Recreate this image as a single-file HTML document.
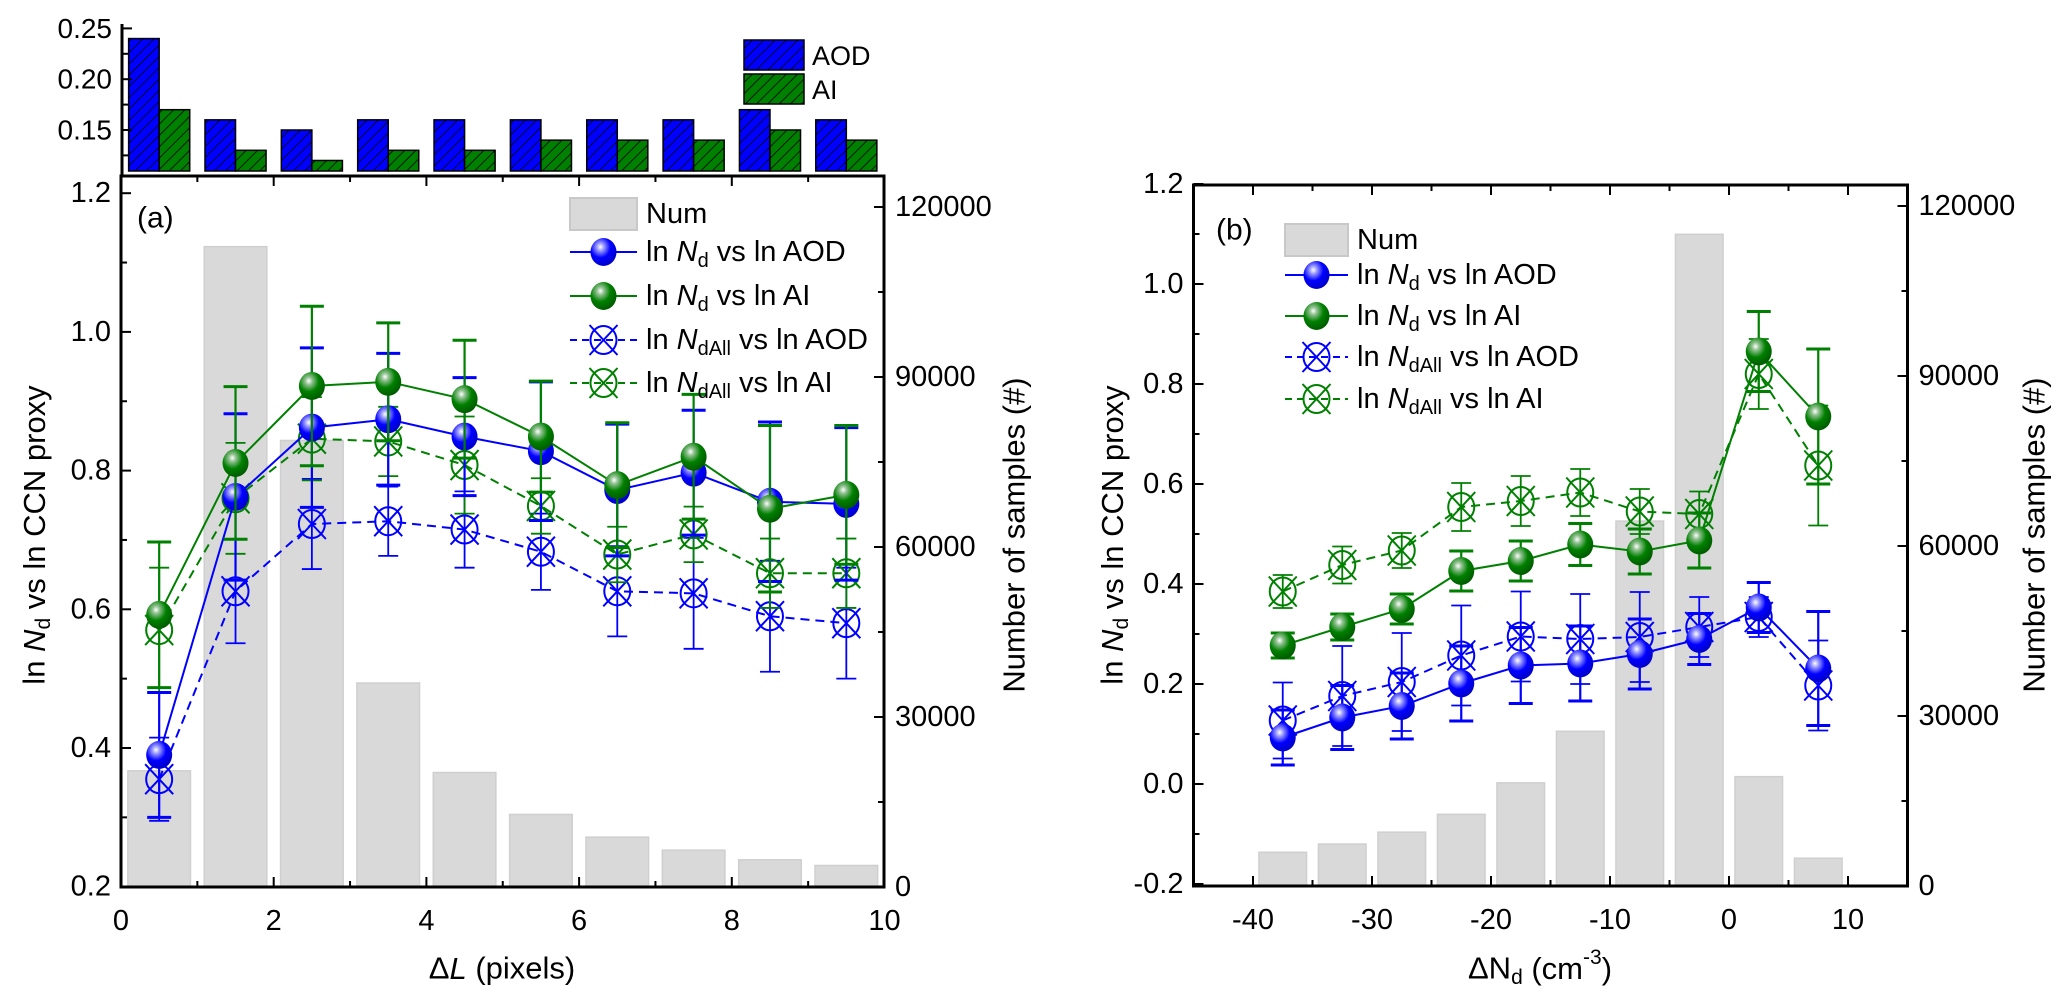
<!DOCTYPE html>
<html><head><meta charset="utf-8"><style>
html,body{margin:0;padding:0;background:#fff}
svg{display:block;font-family:"Liberation Sans",sans-serif}
</style></head><body>
<svg id="fig" width="2067" height="1002" viewBox="0 0 2067 1002" xmlns="http://www.w3.org/2000/svg">
<defs>
<pattern id="hatchB" width="8" height="8" patternUnits="userSpaceOnUse" patternTransform="rotate(45)"><rect width="8" height="8" fill="#0000ff"/><line x1="0" y1="0" x2="0" y2="8" stroke="#000" stroke-width="1.6"/></pattern>
<pattern id="hatchG" width="8" height="8" patternUnits="userSpaceOnUse" patternTransform="rotate(45)"><rect width="8" height="8" fill="#008000"/><line x1="0" y1="0" x2="0" y2="8" stroke="#000" stroke-width="1.6"/></pattern>
<radialGradient id="sphB" cx="0.38" cy="0.32" r="0.7"><stop offset="0" stop-color="#fff"/><stop offset="0.2" stop-color="#9a9aff"/><stop offset="0.55" stop-color="#0000ff"/><stop offset="1" stop-color="#0000c8"/></radialGradient>
<radialGradient id="sphG" cx="0.38" cy="0.32" r="0.7"><stop offset="0" stop-color="#fff"/><stop offset="0.2" stop-color="#8fc08f"/><stop offset="0.55" stop-color="#008000"/><stop offset="1" stop-color="#005a00"/></radialGradient>
</defs>
</svg>
<script>
// ---------- data ----------
const catsA = [0.5,1.5,2.5,3.5,4.5,5.5,6.5,7.5,8.5,9.5];
const numA = [20500,113000,78800,36000,20200,12800,8800,6500,4800,3800];
const histAOD = [0.24,0.16,0.15,0.16,0.16,0.16,0.16,0.16,0.17,0.16];
const histAI = [0.17,0.13,0.12,0.13,0.13,0.14,0.14,0.14,0.15,0.14];
const a_ndAOD = [0.39,0.762,0.862,0.874,0.849,0.828,0.772,0.797,0.755,0.752];
const a_ndAOD_err = [0.09,0.12,0.115,0.095,0.085,0.1,0.095,0.09,0.115,0.11];
const a_ndAI = [0.592,0.811,0.922,0.928,0.903,0.849,0.779,0.82,0.745,0.765];
const a_ndAI_err = [0.105,0.11,0.115,0.085,0.085,0.08,0.09,0.09,0.12,0.1];
const a_allAOD = [0.355,0.626,0.723,0.727,0.715,0.683,0.626,0.623,0.59,0.58];
const a_allAOD_err = [0.06,0.075,0.065,0.05,0.055,0.055,0.065,0.08,0.08,0.08];
const a_allAI = [0.57,0.76,0.846,0.842,0.808,0.749,0.679,0.708,0.652,0.652];
const a_allAI_err = [0.09,0.08,0.06,0.05,0.07,0.04,0.04,0.04,0.05,0.05];

const catsB = [-37.5,-32.5,-27.5,-22.5,-17.5,-12.5,-7.5,-2.5,2.5,7.5];
const numB = [5950,7400,9500,12650,18200,27300,64400,115000,19300,4900];
const b_ndAOD = [0.093,0.133,0.156,0.201,0.237,0.241,0.26,0.29,0.353,0.231];
const b_ndAOD_err = [0.055,0.064,0.066,0.075,0.076,0.075,0.07,0.051,0.05,0.114];
const b_ndAI = [0.277,0.314,0.35,0.426,0.446,0.479,0.465,0.487,0.865,0.735];
const b_ndAI_err = [0.025,0.026,0.03,0.04,0.04,0.042,0.045,0.055,0.08,0.135];
const b_allAOD = [0.127,0.176,0.204,0.257,0.295,0.29,0.294,0.314,0.334,0.197];
const b_allAOD_err = [0.076,0.1,0.098,0.1,0.09,0.09,0.09,0.06,0.04,0.09];
const b_allAI = [0.385,0.438,0.467,0.554,0.566,0.583,0.545,0.54,0.82,0.637];
const b_allAI_err = [0.033,0.037,0.035,0.048,0.05,0.047,0.045,0.045,0.07,0.12];

const ticksLeft = ["0.2","0.4","0.6","0.8","1.0","1.2"];
const ticksLeftB = ["-0.2","0.0","0.2","0.4","0.6","0.8","1.0","1.2"];
const ticksRight = ["0","30000","60000","90000","120000"];
const ticksXA = ["0","2","4","6","8","10"];
const ticksXB = ["-40","-30","-20","-10","0","10"];
const ticksHist = ["0.15","0.20","0.25"];

// ---------- scales ----------
const xA = v => 121 + v*76.35;
const yA = v => 886.7 - (v-0.2)*693.5;
const yAR = n => 887 - n*170/30000;
const yH = v => 130 - (v-0.15)*1016;
const xB = v => 1729 + v*11.9;
const yB = v => 784 - v*500;
const yBR = n => 886 - n*170/30000;

const svg = document.getElementById('fig');
const NS = 'http://www.w3.org/2000/svg';
function mk(tag, attrs, parent){
  const e = document.createElementNS(NS, tag);
  for (const k in attrs) e.setAttribute(k, attrs[k]);
  (parent||svg).appendChild(e);
  return e;
}
function txt(x,y,s,size,anchor,parent){
  const t = mk('text',{x:x,y:y,'font-size':size,'text-anchor':anchor||'start','dominant-baseline':'central',fill:'#000'},parent);
  t.textContent = s; return t;
}
function group(name){
  const g = mk('g',{});
  
  
  return g;
}
function legendText(g, x, y, sub, tail){
  const t = mk('text',{x:x,y:y,'font-size':29,'dominant-baseline':'central'},g);
  const a = mk('tspan',{},t); a.textContent='ln ';
  const b = mk('tspan',{'font-style':'italic'},t); b.textContent='N';
  const c = mk('tspan',{'font-size':20,dy:9},t); c.textContent=sub;
  const d = mk('tspan',{dy:-9},t); d.textContent=' vs ln '+tail;
  return t;
}

// ---------- series drawer ----------
function drawSeries(g, cats, vals, errs, xf, yf, color, dashed, sphere){
  const pts = cats.map((c,i)=>xf(c)+','+yf(vals[i])).join(' ');
  mk('polyline',{points:pts,fill:'none',stroke:color,'stroke-width':2,'stroke-dasharray':dashed?'9,6':'none'},g);
  cats.forEach((c,i)=>{
    const x=xf(c), y1=yf(vals[i]+errs[i]), y2=yf(vals[i]-errs[i]);
    const cw = sphere?12:10, sw = sphere?3:1.8;
    mk('line',{x1:x,y1:y1,x2:x,y2:y2,stroke:color,'stroke-width':sphere?2.2:1.8},g);
    mk('line',{x1:x-cw,y1:y1,x2:x+cw,y2:y1,stroke:color,'stroke-width':sw},g);
    mk('line',{x1:x-cw,y1:y2,x2:x+cw,y2:y2,stroke:color,'stroke-width':sw},g);
  });
  cats.forEach((c,i)=>marker(g, xf(c), yf(vals[i]), color, sphere));
}
function marker(g,x,y,color,sphere){
  if (sphere){
    const m = mk('ellipse',{cx:x,cy:y,rx:13,ry:14,fill:color==='#0000ff'?'url(#sphB)':'url(#sphG)'},g);
    
    
  } else {
    const m = mk('g',{},g);
    
    
    mk('ellipse',{cx:x,cy:y,rx:13,ry:14,fill:'none',stroke:color,'stroke-width':2},m);
    mk('line',{x1:x-14,y1:y-15,x2:x+14,y2:y+15,stroke:color,'stroke-width':2},m);
    mk('line',{x1:x-14,y1:y+15,x2:x+14,y2:y-15,stroke:color,'stroke-width':2},m);
  }
}

// ================= PANEL A =================
const pa = group('panel-a');
// hist
const hist = group('top-histogram');
catsA.forEach((c,i)=>{
  const b = mk('rect',{x:xA(c-0.4),y:yH(histAOD[i]),width:xA(c)-xA(c-0.4),height:171-yH(histAOD[i]),fill:'url(#hatchB)',stroke:'#000','stroke-width':1.5},hist);
  
  
  const g2 = mk('rect',{x:xA(c),y:yH(histAI[i]),width:xA(c+0.4)-xA(c),height:171-yH(histAI[i]),fill:'url(#hatchG)',stroke:'#000','stroke-width':1.5},hist);
  
  
});
mk('line',{x1:122,y1:24,x2:122,y2:176,stroke:'#000','stroke-width':3},hist);
ticksHist.forEach(s=>{
  const v=parseFloat(s);
  mk('line',{x1:122,y1:yH(v),x2:132,y2:yH(v),stroke:'#000','stroke-width':2},hist);
  txt(112,yH(v),s,28,'end',hist);
});
[0.125,0.175,0.225].forEach(v=>mk('line',{x1:122,y1:yH(v),x2:128,y2:yH(v),stroke:'#000','stroke-width':2},hist));
const hl = group('hist-legend');
mk('rect',{x:744,y:40,width:60,height:30,fill:'url(#hatchB)',stroke:'#000','stroke-width':1.5},hl);
txt(812,56,'AOD',27,'start',hl);
mk('rect',{x:744,y:74,width:60,height:30,fill:'url(#hatchG)',stroke:'#000','stroke-width':1.5},hl);
txt(812,90,'AI',27,'start',hl);

// num bars A
const nbA = group('num-bars-a');
catsA.forEach((c,i)=>{
  const r = mk('rect',{x:xA(c-0.41),y:yAR(numA[i]),width:xA(c+0.41)-xA(c-0.41),height:yAR(0)-yAR(numA[i]),fill:'#d9d9d9',stroke:'#cfcfcf','stroke-width':1.5},nbA);
  
  
});
// series A
const sA = group('series-a');
drawSeries(sA,catsA,a_allAOD,a_allAOD_err,xA,yA,'#0000ff',true,false);
drawSeries(sA,catsA,a_allAI,a_allAI_err,xA,yA,'#008000',true,false);
drawSeries(sA,catsA,a_ndAOD,a_ndAOD_err,xA,yA,'#0000ff',false,true);
drawSeries(sA,catsA,a_ndAI,a_ndAI_err,xA,yA,'#008000',false,true);

// frame A
const axA = group('axes-a');
mk('rect',{x:121,y:176,width:763,height:711,fill:'none',stroke:'#000','stroke-width':3},axA);
for(let v=0; v<=10; v++){
  const L = v%2===0?10:6;
  mk('line',{x1:xA(v),y1:887,x2:xA(v),y2:887-L,stroke:'#000','stroke-width':2},axA);
  mk('line',{x1:xA(v),y1:176,x2:xA(v),y2:176+L,stroke:'#000','stroke-width':2},axA);
}
ticksXA.forEach(s=>txt(xA(+s),921,s,29,'middle',axA));
ticksLeft.forEach(s=>{ const v=+s; mk('line',{x1:121,y1:yA(v),x2:131,y2:yA(v),stroke:'#000','stroke-width':2},axA); txt(111,yA(v),s,29,'end',axA);});
[0.3,0.5,0.7,0.9,1.1].forEach(v=>mk('line',{x1:121,y1:yA(v),x2:127,y2:yA(v),stroke:'#000','stroke-width':2},axA));
ticksRight.forEach(s=>{ const n=+s; mk('line',{x1:884,y1:yAR(n),x2:874,y2:yAR(n),stroke:'#000','stroke-width':2},axA); txt(895,yAR(n),s,29,'start',axA);});
[15000,45000,75000,105000].forEach(n=>mk('line',{x1:884,y1:yAR(n),x2:878,y2:yAR(n),stroke:'#000','stroke-width':2},axA));
txt(137,218,'(a)',30,'start',axA);
// titles A
const xtA = mk('text',{x:502,y:968,'font-size':31,'text-anchor':'middle','dominant-baseline':'central'});
 
xtA.innerHTML='Δ<tspan font-style="italic">L</tspan> (pixels)';
const ytA = mk('text',{x:0,y:0,'font-size':31,'text-anchor':'middle','dominant-baseline':'central',transform:'translate(34,535) rotate(-90)'});
 
ytA.innerHTML='ln <tspan font-style="italic">N</tspan><tspan font-size="21" dy="9">d</tspan><tspan dy="-9"> vs ln CCN proxy</tspan>';
const rtA = mk('text',{x:0,y:0,'font-size':31,'text-anchor':'middle','dominant-baseline':'central',transform:'translate(1014,535) rotate(-90)'});
 
rtA.textContent='Number of samples (#)';

// legend A
function legend(name,x0,x1,rows,numY,rowsY,fs){
  const lg = group(name);
  mk('rect',{x:x0,y:numY-16,width:x1-x0,height:32,fill:'#d9d9d9',stroke:'#c8c8c8','stroke-width':2},lg);
  txt(x1+9,numY,'Num',29,'start',lg);
  const xm=(x0+x1)/2;
  rows.forEach((r,i)=>{
    const y=rowsY[i];
    mk('line',{x1:x0,y1:y,x2:x1,y2:y,stroke:r.c,'stroke-width':2,'stroke-dasharray':r.d?'7,5':'none'},lg);
    marker(lg,xm,y,r.c,!r.d);
    legendText(lg,x1+9,y,r.sub,r.tail);
  });
}
const rowsDef=[{c:'#0000ff',d:false,sub:'d',tail:'AOD'},{c:'#008000',d:false,sub:'d',tail:'AI'},{c:'#0000ff',d:true,sub:'dAll',tail:'AOD'},{c:'#008000',d:true,sub:'dAll',tail:'AI'}];
legend('legend-a',570,637,rowsDef,214,[252,296,340,383]);

// ================= PANEL B =================
const nbB = group('num-bars-b');
catsB.forEach((c,i)=>{
  const r = mk('rect',{x:xB(c-2),y:yBR(numB[i]),width:xB(c+2)-xB(c-2),height:yBR(0)-yBR(numB[i]),fill:'#d9d9d9',stroke:'#cfcfcf','stroke-width':1.5},nbB);
  
  
});
const sB = group('series-b');
drawSeries(sB,catsB,b_allAOD,b_allAOD_err,xB,yB,'#0000ff',true,false);
drawSeries(sB,catsB,b_allAI,b_allAI_err,xB,yB,'#008000',true,false);
drawSeries(sB,catsB,b_ndAOD,b_ndAOD_err,xB,yB,'#0000ff',false,true);
drawSeries(sB,catsB,b_ndAI,b_ndAI_err,xB,yB,'#008000',false,true);

const axB = group('axes-b');
mk('rect',{x:xB(-45),y:185,width:xB(15)-xB(-45),height:701,fill:'none',stroke:'#000','stroke-width':3},axB);
for(let v=-45; v<=15; v+=5){
  const L = v%10===0?10:6;
  mk('line',{x1:xB(v),y1:886,x2:xB(v),y2:886-L,stroke:'#000','stroke-width':2},axB);
  mk('line',{x1:xB(v),y1:185,x2:xB(v),y2:185+L,stroke:'#000','stroke-width':2},axB);
}
ticksXB.forEach(s=>txt(xB(+s),920,s,29,'middle',axB));
ticksLeftB.forEach(s=>{ const v=+s; mk('line',{x1:xB(-45),y1:yB(v),x2:xB(-45)+10,y2:yB(v),stroke:'#000','stroke-width':2},axB); txt(xB(-45)-10,yB(v),s,29,'end',axB);});
[-0.1,0.1,0.3,0.5,0.7,0.9,1.1].forEach(v=>mk('line',{x1:xB(-45),y1:yB(v),x2:xB(-45)+6,y2:yB(v),stroke:'#000','stroke-width':2},axB));
ticksRight.forEach(s=>{ const n=+s; mk('line',{x1:xB(15),y1:yBR(n),x2:xB(15)-10,y2:yBR(n),stroke:'#000','stroke-width':2},axB); txt(xB(15)+11,yBR(n),s,29,'start',axB);});
[15000,45000,75000,105000].forEach(n=>mk('line',{x1:xB(15),y1:yBR(n),x2:xB(15)-6,y2:yBR(n),stroke:'#000','stroke-width':2},axB));
txt(1216,230,'(b)',30,'start',axB);
const xtB = mk('text',{x:1540,y:968,'font-size':31,'text-anchor':'middle','dominant-baseline':'central'});
 
xtB.innerHTML='ΔN<tspan font-size="21" dy="9">d</tspan><tspan dy="-9"> (cm</tspan><tspan font-size="21" dy="-11">-3</tspan><tspan dy="11">)</tspan>';
const ytB = mk('text',{x:0,y:0,'font-size':31,'text-anchor':'middle','dominant-baseline':'central',transform:'translate(1112,535) rotate(-90)'});
 
ytB.innerHTML='ln <tspan font-style="italic">N</tspan><tspan font-size="21" dy="9">d</tspan><tspan dy="-9"> vs ln CCN proxy</tspan>';
const rtB = mk('text',{x:0,y:0,'font-size':31,'text-anchor':'middle','dominant-baseline':'central',transform:'translate(2034,535) rotate(-90)'});
 
rtB.textContent='Number of samples (#)';
legend('legend-b',1285,1348,rowsDef,240,[275,316,357,399]);
</script>
</body></html>
